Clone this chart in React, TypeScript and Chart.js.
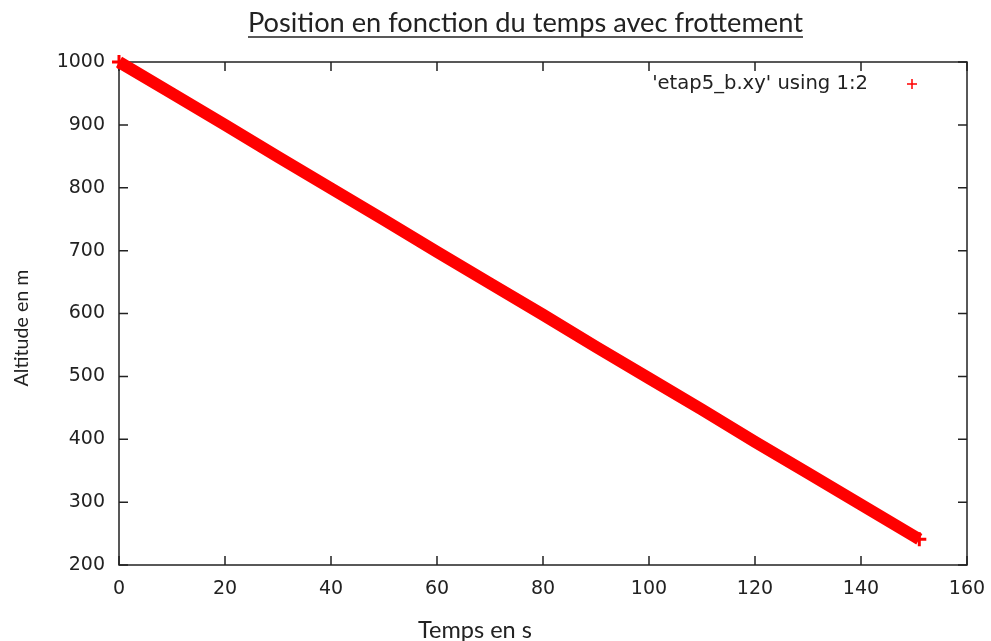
import React, { useEffect, useRef } from "react";
import { Chart, registerables } from "chart.js";

Chart.register(...registerables);

// Values (time in s, altitude in m)
const times = [0, 10, 20, 30, 40, 50, 60, 70, 80, 90, 100, 110, 120, 130, 140, 150, 151];
const altitudes = [1000, 950, 900, 849, 799, 749, 698, 648, 598, 547, 497, 447, 396, 346, 296, 246, 241];

const xTicks = [0, 20, 40, 60, 80, 100, 120, 140, 160];
const yTicks = [200, 300, 400, 500, 600, 700, 800, 900, 1000];

const chartTitle = "Position en fonction du temps avec frottement";
const xTitle = "Temps en s";
const yTitle = "Altitude en m";
const seriesLabel = "'etap5_b.xy' using 1:2";

const INK = "#222";

function fitFont(ctx: CanvasRenderingContext2D, text: string, family: string, width: number) {
  ctx.font = `100px ${family}`;
  const w = ctx.measureText(text).width;
  return (100 * width) / w;
}

const decorPlugin = {
  id: "decor",
  beforeDatasetsDraw(chart: any) {
    const { ctx, chartArea } = chart;
    const { left, right, top, bottom } = chartArea;
    const xs = chart.scales.x;
    const ys = chart.scales.y;
    ctx.save();
    ctx.strokeStyle = INK;
    ctx.lineWidth = 1.5;
    ctx.strokeRect(left, top, right - left, bottom - top);
    const tl = 9;
    ctx.beginPath();
    xTicks.forEach((v) => {
      const px = xs.getPixelForValue(v);
      ctx.moveTo(px, bottom);
      ctx.lineTo(px, bottom - tl);
      ctx.moveTo(px, top);
      ctx.lineTo(px, top + tl);
    });
    yTicks.forEach((v) => {
      const py = ys.getPixelForValue(v);
      ctx.moveTo(left, py);
      ctx.lineTo(left + tl, py);
      ctx.moveTo(right, py);
      ctx.lineTo(right - tl, py);
    });
    ctx.stroke();
    ctx.restore();
  },
  afterDraw(chart: any) {
    const { ctx } = chart;
    ctx.save();
    ctx.fillStyle = INK;
    ctx.textBaseline = "alphabetic";
    // Title
    const fam = "Lato";
    let fs = fitFont(ctx, chartTitle, fam, 555);
    ctx.font = `${fs}px ${fam}`;
    ctx.textAlign = "left";
    ctx.fillText(chartTitle, 248, 32);
    ctx.strokeStyle = INK;
    ctx.lineWidth = 1.5;
    ctx.beginPath();
    ctx.moveTo(248, 37);
    ctx.lineTo(803, 37);
    ctx.stroke();
    // X title
    fs = fitFont(ctx, xTitle, fam, 114);
    ctx.font = `${fs}px ${fam}`;
    ctx.textAlign = "center";
    ctx.fillText(xTitle, 475, 638);
    // Y title
    fs = fitFont(ctx, yTitle, fam, 117);
    ctx.font = `${fs}px ${fam}`;
    ctx.save();
    ctx.translate(28, 328);
    ctx.rotate(-Math.PI / 2);
    ctx.textAlign = "center";
    ctx.fillText(yTitle, 0, 0);
    ctx.restore();
    // Legend
    const label = chart.data.datasets[0].label;
    fs = fitFont(ctx, label, `"DejaVu Sans"`, 216);
    ctx.font = `${fs}px "DejaVu Sans"`;
    ctx.textAlign = "right";
    ctx.textBaseline = "middle";
    ctx.fillText(label, 868, 84);
    ctx.strokeStyle = "#ff0000";
    ctx.lineWidth = 1.5;
    ctx.beginPath();
    ctx.moveTo(907, 84);
    ctx.lineTo(917, 84);
    ctx.moveTo(912, 79);
    ctx.lineTo(912, 89);
    ctx.stroke();
    ctx.restore();
  },
};

export default function App() {
  const ref = useRef<HTMLCanvasElement | null>(null);
  useEffect(() => {
    if (!ref.current) return;
    const last = times.length - 1;
    const chart = new Chart(ref.current, {
      type: "line",
      data: {
        datasets: [
          {
            label: seriesLabel,
            data: times.map((t, i) => ({ x: t, y: altitudes[i] })),
            borderColor: "#ff0000",
            backgroundColor: "#ff0000",
            borderWidth: 12,
            borderCapStyle: "butt",
            pointStyle: "cross",
            pointRadius: (c: any) => (c.dataIndex === 0 || c.dataIndex === last ? 7 : 0),
            pointBorderWidth: 3,
            pointBorderColor: "#ff0000",
            tension: 0,
            clip: false as any,
          },
        ],
      },
      options: {
        responsive: false,
        animation: false,
        layout: { padding: { top: 62, right: 24, left: 0, bottom: 0 } },
        plugins: { legend: { display: false }, title: { display: false }, tooltip: { enabled: false } },
        scales: {
          x: {
            type: "linear",
            min: 0,
            max: 160,
            afterFit: (s: any) => {
              s.height = 76;
              s.paddingLeft = 0;
              s.paddingRight = 0;
            },
            afterBuildTicks: (s: any) => {
              s.ticks = xTicks.map((v) => ({ value: v }));
            },
            grid: { display: false, drawTicks: false },
            border: { display: false },
            ticks: {
              padding: 13,
              color: INK,
              font: { family: "DejaVu Sans", size: 19 },
              maxRotation: 0,
              callback: (v: any) => String(v),
            },
          },
          y: {
            type: "linear",
            min: 200,
            max: 1000,
            afterFit: (s: any) => {
              s.width = 119;
              s.paddingTop = 0;
              s.paddingBottom = 0;
            },
            afterBuildTicks: (s: any) => {
              s.ticks = yTicks.map((v) => ({ value: v }));
            },
            grid: { display: false, drawTicks: false },
            border: { display: false },
            ticks: {
              padding: 14,
              color: INK,
              font: { family: "DejaVu Sans", size: 19 },
              callback: (v: any) => String(v),
            },
          },
        },
      },
      plugins: [decorPlugin],
    });
    return () => chart.destroy();
  }, []);
  return (
    <div style={{ position: "fixed", left: 0, top: 0, width: 991, height: 641, background: "#fff" }}>
      <canvas ref={ref} width={991} height={641} />
    </div>
  );
}
